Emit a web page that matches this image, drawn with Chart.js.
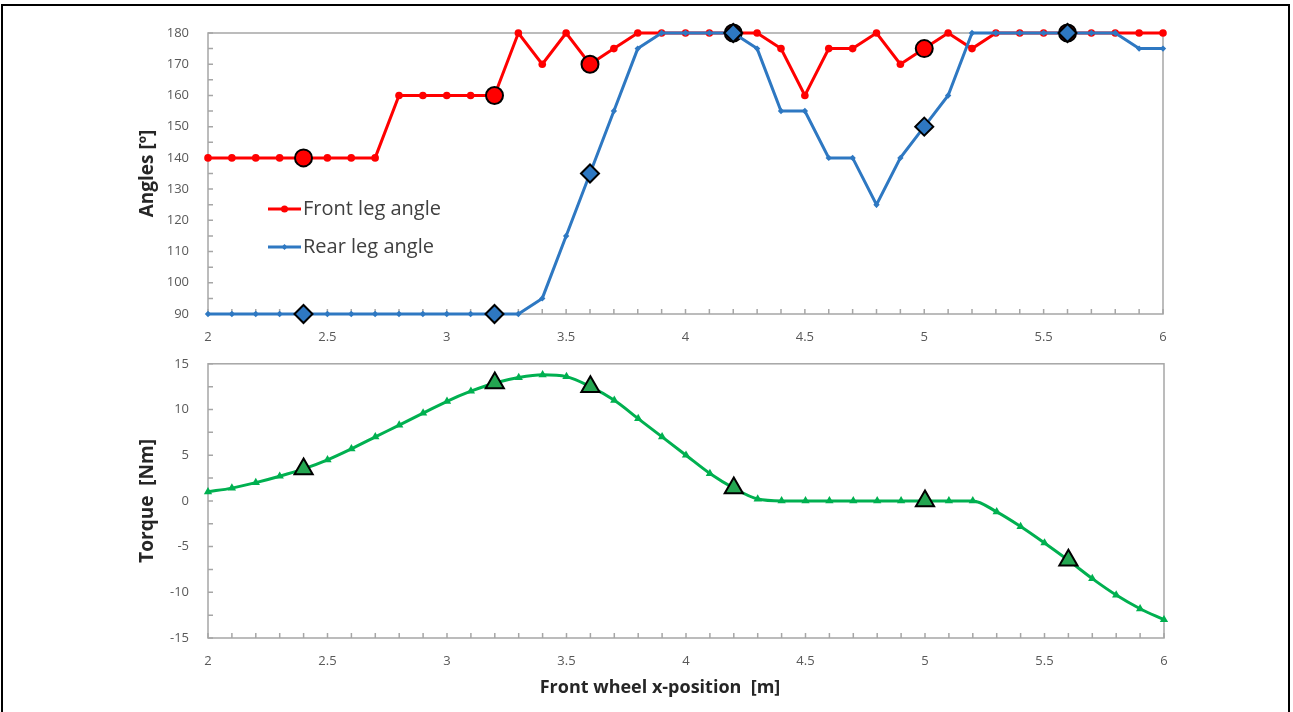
<!DOCTYPE html>
<html>
<head>
<meta charset="utf-8">
<script src="https://cdn.jsdelivr.net/npm/chart.js@4.4.1/dist/chart.umd.min.js"></script>
<style>
  body { margin: 0; background: #fff; width: 1293px; height: 712px; overflow: hidden; position: relative; font-family: "Open Sans", sans-serif; }
  #frame { position: absolute; left: 1px; top: 4px; width: 1289px; height: 760px; border: 2px solid #000; border-bottom: none; box-sizing: border-box; }
  #anglesBox { position: absolute; left: 0; top: 0; width: 1293px; height: 345px; }
  #torqueBox { position: absolute; left: 0; top: 345px; width: 1293px; height: 367px; }
  #xTitle { position: absolute; left: 0; top: 674px; width: 1320px; line-height: 24px; text-align: center; font-weight: bold; font-size: 18px; color: #262626; }
</style>
</head>
<body>
<div id="frame"></div>
<div id="anglesBox"><canvas id="anglesChart"></canvas></div>
<div id="torqueBox"><canvas id="torqueChart"></canvas></div>
<div id="xTitle">Front wheel x-position&nbsp; [m]</div>

<script>
// x positions of the front wheel [m]
const xPos = [
    2.0, 2.1, 2.2, 2.3, 2.4, 2.5, 2.6, 2.7, 2.8, 2.9,
    3.0, 3.1, 3.2, 3.3, 3.4, 3.5, 3.6, 3.7, 3.8, 3.9,
    4.0, 4.1, 4.2, 4.3, 4.4, 4.5, 4.6, 4.7, 4.8, 4.9,
    5.0, 5.1, 5.2, 5.3, 5.4, 5.5, 5.6, 5.7, 5.8, 5.9,
    6.0
];

const frontAngle = [
    140, 140, 140, 140, 140, 140, 140, 140, 160, 160,
    160, 160, 160, 180, 170, 180, 170, 175, 180, 180,
    180, 180, 180, 180, 175, 160, 175, 175, 180, 170,
    175, 180, 175, 180, 180, 180, 180, 180, 180, 180,
    180
];

const rearAngle = [
    90, 90, 90, 90, 90, 90, 90, 90, 90, 90,
    90, 90, 90, 90, 95, 115, 135, 155, 175, 180,
    180, 180, 180, 175, 155, 155, 140, 140, 125, 140,
    150, 160, 180, 180, 180, 180, 180, 180, 180, 175,
    175
];

const torque = [
    1.0, 1.4, 2.0, 2.7, 3.5, 4.5, 5.7, 7.0, 8.3, 9.6,
    10.9, 12.0, 12.9, 13.5, 13.8, 13.6, 12.5, 11.0, 9.0, 7.0,
    5.0, 3.0, 1.4, 0.2, 0.0, 0.0, 0.0, 0.0, 0.0, 0.0,
    0.0, 0.0, 0.0, -1.2, -2.8, -4.6, -6.5, -8.5, -10.3, -11.8,
    -13.0
];

// positions that get the large highlighted markers
const keyPositions = [2.4, 3.2, 3.6, 4.2, 5.0, 5.6];

// labelled ticks
const xTickLabels = [2, 2.5, 3, 3.5, 4, 4.5, 5, 5.5, 6];
const angleTickLabels = [90, 100, 110, 120, 130, 140, 150, 160, 170, 180];
const torqueTickLabels = [-15, -10, -5, 0, 5, 10, 15];

const RED = "#ff0000";
const BLUE = "#2e78c2";
const GREEN = "#00b050";

const isKey = ctx => keyPositions.some(k => Math.abs(k - xPos[ctx.dataIndex]) < 1e-6);
const toPoints = ys => xPos.map((x, i) => ({ x: x, y: ys[i] }));
const labelFrom = list => v => {
    const hit = list.find(t => Math.abs(t - v) < 1e-6);
    return hit === undefined ? "" : String(hit);
};

const tickFont = { family: "Open Sans", size: 13 };
const titleFont = { family: "Open Sans", size: 19, weight: "bold" };

// grey plot frame plus short inward tick marks
const frameTicks = {
    id: "frameTicks",
    beforeDatasetsDraw(chart) {
        const { ctx, chartArea: a, scales } = chart;
        ctx.save();
        ctx.strokeStyle = "#a6a6a6";
        ctx.lineWidth = 1.5;
        ctx.strokeRect(a.left, a.top, a.right - a.left, a.bottom - a.top);
        ctx.beginPath();
        scales.x.ticks.forEach(t => {
            const px = scales.x.getPixelForValue(t.value);
            ctx.moveTo(px, a.bottom);
            ctx.lineTo(px, a.bottom - 5);
        });
        scales.y.ticks.forEach(t => {
            const py = scales.y.getPixelForValue(t.value);
            ctx.moveTo(a.left, py);
            ctx.lineTo(a.left + 5, py);
        });
        ctx.stroke();
        ctx.restore();
    }
};

// legend inside the angle plot
const innerLegend = {
    id: "innerLegend",
    afterDatasetsDraw(chart) {
        const ctx = chart.ctx;
        const rows = [209, 247];
        ctx.save();
        chart.data.datasets.forEach((ds, i) => {
            const y = rows[i];
            ctx.strokeStyle = ds.borderColor;
            ctx.lineWidth = 3;
            ctx.beginPath();
            ctx.moveTo(268, y);
            ctx.lineTo(301, y);
            ctx.stroke();
            ctx.fillStyle = ds.borderColor;
            Chart.helpers.drawPoint(ctx, { pointStyle: ds.pointStyle, radius: ds.pointStyle === "circle" ? 3.5 : 3, rotation: 0, borderWidth: 0 }, 284.5, y);
            ctx.fillStyle = "#404040";
            ctx.font = "20px 'Open Sans'";
            ctx.textBaseline = "middle";
            ctx.fillText(ds.label, 303, y);
        });
        ctx.restore();
    }
};

function xScale(height) {
    return {
        type: "linear",
        min: 2,
        max: 6,
        grid: { display: false },
        border: { display: false },
        ticks: {
            stepSize: 0.1,
            maxTicksLimit: 100,
            autoSkip: false,
            maxRotation: 0,
            padding: 7,
            font: tickFont,
            color: "#595959",
            callback: labelFrom(xTickLabels)
        },
        afterFit: s => { s.height = height; }
    };
}

function yScale(min, max, step, labels, title) {
    return {
        min: min,
        max: max,
        grid: { display: false },
        border: { display: false },
        ticks: {
            stepSize: step,
            autoSkip: false,
            padding: 11,
            font: tickFont,
            color: "#595959",
            callback: labelFrom(labels)
        },
        title: {
            display: true,
            text: title,
            font: titleFont,
            color: "#262626",
            padding: { top: 136, bottom: 0 }
        },
        afterFit: s => { s.width = 208; }
    };
}

/* ---------- leg angles ---------- */

new Chart(document.getElementById("anglesChart"), {
    type: "line",
    data: {
        datasets: [
            {
                label: "Front leg angle",
                data: toPoints(frontAngle),
                borderColor: RED,
                backgroundColor: RED,
                borderWidth: 3,
                pointStyle: "circle",
                pointRadius: ctx => isKey(ctx) ? 8.5 : 3.8,
                pointBackgroundColor: RED,
                pointBorderColor: ctx => isKey(ctx) ? "#000" : RED,
                pointBorderWidth: ctx => isKey(ctx) ? 2 : 0,
                tension: 0,
                clip: false,
                order: 1
            },
            {
                label: "Rear leg angle",
                data: toPoints(rearAngle),
                borderColor: BLUE,
                backgroundColor: BLUE,
                borderWidth: 3,
                pointStyle: "rectRot",
                pointRadius: ctx => isKey(ctx) ? 9 : 3.2,
                pointBackgroundColor: BLUE,
                pointBorderColor: ctx => isKey(ctx) ? "#000" : BLUE,
                pointBorderWidth: ctx => isKey(ctx) ? 2 : 0,
                tension: 0,
                clip: false,
                order: 0
            }
        ]
    },
    options: {
        responsive: true,
        maintainAspectRatio: false,
        animation: false,
        layout: { padding: { left: 0, right: 130, top: 33, bottom: 0 } },
        plugins: { legend: { display: false }, tooltip: { enabled: false } },
        scales: {
            x: xScale(31),
            y: yScale(90, 180, 5, angleTickLabels, "Angles [º]")
        }
    },
    plugins: [frameTicks, innerLegend]
});

/* ---------- torque ---------- */

new Chart(document.getElementById("torqueChart"), {
    type: "line",
    data: {
        datasets: [{
            label: "Torque",
            data: toPoints(torque),
            borderColor: GREEN,
            backgroundColor: GREEN,
            borderWidth: 3,
            cubicInterpolationMode: "monotone",
            pointStyle: "triangle",
            pointRadius: ctx => isKey(ctx) ? 10.5 : 4.8,
            pointBackgroundColor: ctx => isKey(ctx) ? "#24a651" : GREEN,
            pointBorderColor: ctx => isKey(ctx) ? "#000" : GREEN,
            pointBorderWidth: ctx => isKey(ctx) ? 2 : 0,
            clip: false
        }]
    },
    options: {
        responsive: true,
        maintainAspectRatio: false,
        animation: false,
        layout: { padding: { left: 0, right: 129, top: 9, bottom: 0 } },
        plugins: { legend: { display: false }, tooltip: { enabled: false } },
        scales: {
            x: xScale(74),
            y: yScale(-15, 15, 2.5, torqueTickLabels, "Torque  [Nm]")
        }
    },
    plugins: [frameTicks]
});
</script>
</body>
</html>
